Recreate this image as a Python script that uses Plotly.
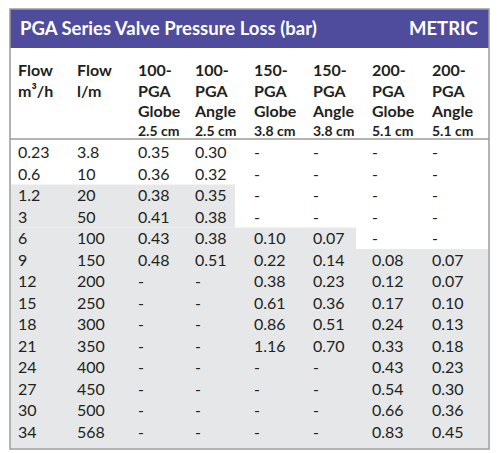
import numpy as np
import plotly.graph_objects as go

# ---------------- data ----------------
flow_m3h = ["0.23", "0.6", "1.2", "3", "6", "9", "12", "15", "18", "21", "24", "27", "30", "34"]
flow_lm = ["3.8", "10", "20", "50", "100", "150", "200", "250", "300", "350", "400", "450", "500", "568"]
pga100_globe = [0.35, 0.36, 0.38, 0.41, 0.43, 0.48, None, None, None, None, None, None, None, None]
pga100_angle = [0.30, 0.32, 0.35, 0.38, 0.38, 0.51, None, None, None, None, None, None, None, None]
pga150_globe = [None, None, None, None, 0.10, 0.22, 0.38, 0.61, 0.86, 1.16, None, None, None, None]
pga150_angle = [None, None, None, None, 0.07, 0.14, 0.23, 0.36, 0.51, 0.70, None, None, None, None]
pga200_globe = [None, None, None, None, None, 0.08, 0.12, 0.17, 0.24, 0.33, 0.43, 0.54, 0.66, 0.83]
pga200_angle = [None, None, None, None, None, 0.07, 0.07, 0.10, 0.13, 0.18, 0.23, 0.30, 0.36, 0.45]

NB = "\u00a0"  # non-breaking space keeps "2.5 cm" on one line
header_labels = [
    ["Flow", "m³/h", "", ""],
    ["Flow", "l/m", "", ""],
    ["100-", "PGA", "Globe", f"2.5{NB}cm"],
    ["100-", "PGA", "Angle", f"2.5{NB}cm"],
    ["150-", "PGA", "Globe", f"3.8{NB}cm"],
    ["150-", "PGA", "Angle", f"3.8{NB}cm"],
    ["200-", "PGA", "Globe", f"5.1{NB}cm"],
    ["200-", "PGA", "Angle", f"5.1{NB}cm"],
]
title_text = "PGA Series Valve Pressure Loss (bar)"
unit_text = "METRIC"

# ---------------- styling ----------------
W, H = 500, 453
OFF = 8  # page body margin
FONT = "Lato"
TXT = "#231f20"
PURPLE = "#4f4c9e"
GREY = "#e6e7e9"
BORDER = "#9a9a9a"

box_l, box_r, box_t, box_b = 10, 489, 9, 449
bar_b = 48
head_top = 56
head_row_h = 20.5
sep_y = 139
row_h = 21.5
rows_top = 141.5
col_w = [59, 61, 57, 59, 59, 59, 60, 65]
head_sizes = np.array([[16, 16, 16, 14]] * len(header_labels), dtype=float)


def px(x):
    return (x - OFF) / W


def py(y):
    return 1 - (y - OFF) / H


def fmt(v):
    return "-" if v is None else f"{v:.2f}"


value_cols = [flow_m3h, flow_lm] + [[fmt(v) for v in c] for c in
              [pga100_globe, pga100_angle, pga150_globe, pga150_angle, pga200_globe, pga200_angle]]

fig = go.Figure(go.Table(
    domain=dict(x=[px(box_l), px(box_r)], y=[py(box_b), py(head_top)]),
    columnwidth=col_w,
    header=dict(
        values=header_labels,
        align="left",
        height=head_row_h,
        fill_color="rgba(0,0,0,0)",
        line=dict(color="rgba(0,0,0,0)", width=0),
        font=dict(family=FONT, size=head_sizes, color=TXT, weight="bold"),
    ),
    cells=dict(
        values=value_cols,
        align="left",
        height=row_h,
        fill_color="rgba(0,0,0,0)",
        line=dict(color="rgba(0,0,0,0)", width=0),
        font=dict(family=FONT, size=16, color=TXT),
    ),
))

# staircase grey shading: (first row, last row, right edge in px)
shade_spans = [(2, 3, 235), (4, 4, 356), (5, 13, box_r - 1)]
shapes = []
for r0, r1, xr in shade_spans:
    y0 = rows_top + r0 * row_h
    y1 = rows_top + (r1 + 1) * row_h if r1 < 13 else box_b - 1
    shapes.append(dict(type="rect", xref="paper", yref="paper", layer="below",
                       x0=px(box_l + 1), x1=px(xr), y0=py(y0), y1=py(y1),
                       fillcolor=GREY, line=dict(width=0)))
# purple title bar
shapes.append(dict(type="rect", xref="paper", yref="paper", layer="below",
                   x0=px(box_l), x1=px(box_r), y0=py(box_t), y1=py(bar_b),
                   fillcolor=PURPLE, line=dict(width=0)))
# header separator
shapes.append(dict(type="line", xref="paper", yref="paper", layer="above",
                   x0=px(box_l), x1=px(box_r), y0=py(sep_y), y1=py(sep_y),
                   line=dict(color=BORDER, width=1.5)))
# outer border
shapes.append(dict(type="rect", xref="paper", yref="paper", layer="above",
                   x0=px(box_l), x1=px(box_r), y0=py(box_t), y1=py(box_b),
                   line=dict(color=BORDER, width=1.5)))

annotations = [
    dict(text=f"<b>{title_text}</b>", x=px(18), y=py((box_t + bar_b) / 2 - 0.5), xref="paper", yref="paper",
         xanchor="left", yanchor="middle", showarrow=False,
         font=dict(family=FONT, size=18.5, color="white")),
    dict(text=f"<b>{unit_text}</b>", x=px(481), y=py((box_t + bar_b) / 2 - 0.5), xref="paper", yref="paper",
         xanchor="right", yanchor="middle", showarrow=False,
         font=dict(family=FONT, size=18.5, color="white")),
]

fig.update_layout(
    width=W, height=H,
    margin=dict(l=0, r=0, t=0, b=0),
    paper_bgcolor="white",
    shapes=shapes,
    annotations=annotations,
)

fig.write_html("out.html")
